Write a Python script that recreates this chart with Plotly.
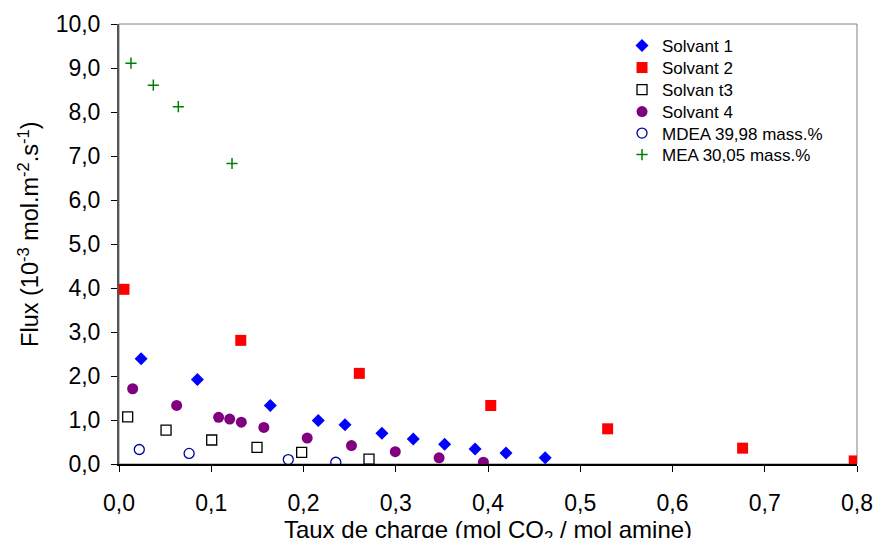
import plotly.graph_objects as go

# Data
s1_x = [0.024, 0.085, 0.164, 0.216, 0.245, 0.285, 0.319, 0.353, 0.386, 0.4195, 0.462]
s1_y = [2.39, 1.92, 1.33, 0.99, 0.89, 0.70, 0.57, 0.45, 0.34, 0.25, 0.14]

s2_x = [0.0054, 0.132, 0.2605, 0.403, 0.5297, 0.676, 0.797]
s2_y = [3.97, 2.81, 2.06, 1.33, 0.80, 0.36, 0.07]

s3_x = [0.0094, 0.051, 0.1005, 0.1496, 0.198, 0.271]
s3_y = [1.07, 0.77, 0.545, 0.38, 0.265, 0.11]

s4_x = [0.0148, 0.0625, 0.108, 0.120, 0.1326, 0.157, 0.204, 0.252, 0.2995, 0.347, 0.395]
s4_y = [1.71, 1.33, 1.06, 1.02, 0.95, 0.83, 0.59, 0.42, 0.28, 0.14, 0.04]

mdea_x = [0.022, 0.076, 0.1835, 0.235]
mdea_y = [0.33, 0.24, 0.10, 0.04]

mea_x = [0.013, 0.0372, 0.0643, 0.1225]
mea_y = [9.11, 8.61, 8.12, 6.83]

names = ["Solvant 1", "Solvant 2", "Solvan t3", "Solvant 4",
         "MDEA 39,98 mass.%", "MEA 30,05 mass.%"]

x_ticks = [0.0, 0.1, 0.2, 0.3, 0.4, 0.5, 0.6, 0.7, 0.8]
y_ticks = [0, 1, 2, 3, 4, 5, 6, 7, 8, 9, 10]

FONT = "Liberation Sans, Arial, sans-serif"

series = [
    (s1_x, s1_y, dict(symbol="diamond", size=10, color="#0000FF")),
    (s2_x, s2_y, dict(symbol="square", size=11, color="#FF0000")),
    (s3_x, s3_y, dict(symbol="square-open", size=10, color="#000000", line=dict(width=1.3))),
    (s4_x, s4_y, dict(symbol="circle", size=11, color="#800080")),
    (mdea_x, mdea_y, dict(symbol="circle-open", size=10, color="#000099", line=dict(width=1.3))),
    (mea_x, mea_y, dict(symbol="cross-thin-open", size=8, color="#008000",
                        line=dict(width=1.5, color="#1a8a1a"))),
]

# plot area target in page px: x 119..857, y 24..464 (body margin removed).
# Figure is a little taller than the window so the x title (cut by the window
# edge in the reference) is not pushed up onto the tick labels.
W, H = 875, 548
L, T, R, B = 119, 24, 18, 84
PLOT_H = H - T - B  # 440

# legend rows (pixel centres: 46, 68, 90, 112, 133, 155)
row_px = [46, 68, 90, 112, 133.5, 155]

fig = go.Figure()
legend_layout = {}
for i, ((xs, ys, mk), nm) in enumerate(zip(series, names)):
    lg = "legend" if i == 0 else f"legend{i+1}"
    fig.add_trace(go.Scatter(x=xs, y=ys, mode="markers", name=nm, marker=mk, legend=lg))
    legend_layout[lg] = dict(
        x=0.6816, y=(464 - row_px[i]) / PLOT_H, xanchor="left", yanchor="middle",
        font=dict(size=17, family=FONT, color="black"), bgcolor="rgba(0,0,0,0)",
        borderwidth=0)

# plot area frame (top/right grey border)
fig.add_shape(type="rect", xref="paper", yref="paper", x0=0, y0=0, x1=1, y1=1,
              line=dict(color="#808080", width=1), layer="below")

fig.update_layout(
    width=W, height=H,
    margin=dict(l=L, r=R, t=T, b=B),
    paper_bgcolor="white", plot_bgcolor="white",
    separators=",.",
    font=dict(family=FONT, color="black"),
    showlegend=True,
    xaxis=dict(range=[0, 0.8], tickvals=x_ticks, tickformat=".1f", automargin=False,
               showgrid=False, zeroline=False, showline=True, linecolor="black",
               linewidth=1.5, ticks="outside", ticklen=6, tickcolor="black",
               tickfont=dict(size=23), ticklabelstandoff=12,
               title=dict(text="Taux de charge (mol CO<sub>2</sub> / mol amine)",
                          font=dict(size=24), standoff=1)),
    yaxis=dict(range=[0, 10], tickvals=y_ticks, tickformat=".1f", automargin=False,
               showgrid=False, zeroline=False, showline=True, linecolor="#555555",
               linewidth=2, ticks="outside", ticklen=6, tickcolor="black",
               tickfont=dict(size=23), ticklabelstandoff=6,
               title=dict(text="&nbsp;&nbsp;&nbsp;Flux (10<sup>-3</sup> mol.m<sup>-2</sup>.s<sup>-1</sup>)",
                          font=dict(size=23.5), standoff=10)),
    **legend_layout,
)

fig.write_html(
    "out.html",
    config={"displayModeBar": False},
    post_script="document.body.style.margin='0';document.body.style.overflow='hidden';",
)
